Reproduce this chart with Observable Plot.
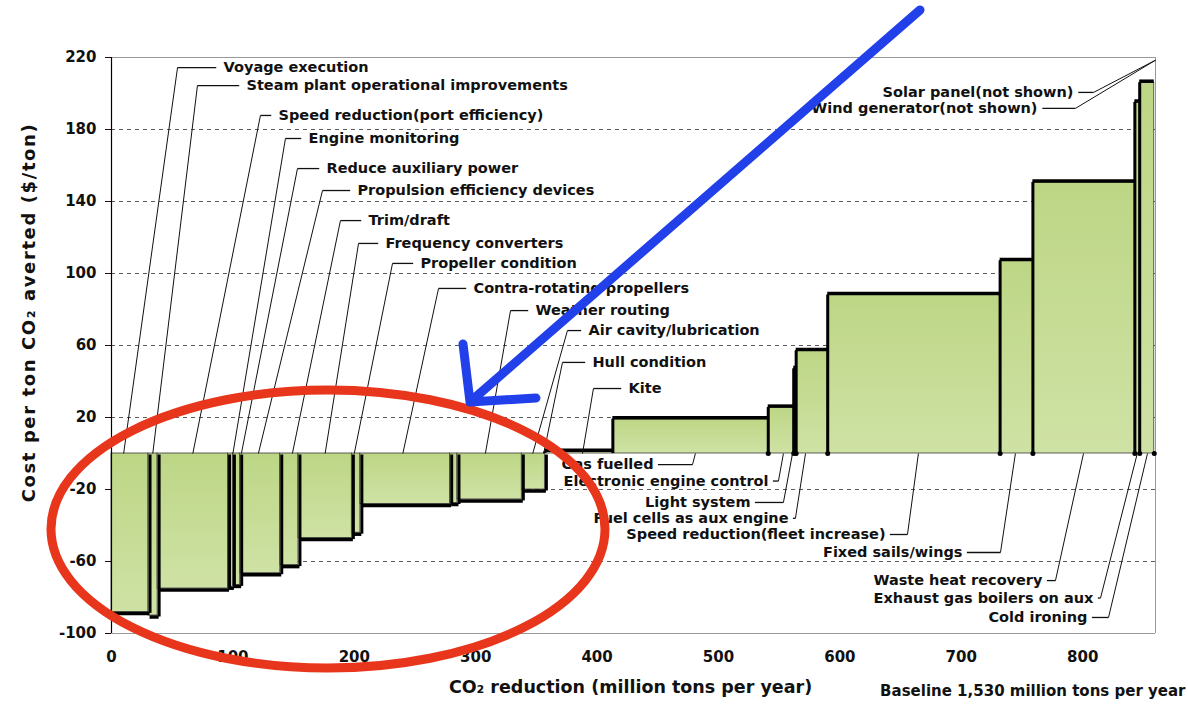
<!DOCTYPE html>
<html>
<head>
<meta charset="utf-8">
<script src="https://cdn.jsdelivr.net/npm/d3@7"></script>
<script src="https://cdn.jsdelivr.net/npm/@observablehq/plot@0.6"></script>
<style>
  html, body { margin: 0; padding: 0; background: #fff; }
  svg text { font-weight: bold; }
</style>
</head>
<body>
<div id="chart"></div>
<script>
// ---- data: measures in merit order ----
const measures = [
  "Voyage execution", "Steam plant operational improvements", "Speed reduction(port efficiency)",
  "Engine monitoring", "Reduce auxiliary power", "Propulsion efficiency devices", "Trim/draft",
  "Frequency converters", "Propeller condition", "Contra-rotating propellers", "Weather routing",
  "Air cavity/lubrication", "Hull condition", "Kite", "Gas fuelled", "Electronic engine control",
  "Light system", "Fuel cells as aux engine", "Speed reduction(fleet increase)", "Fixed sails/wings",
  "Waste heat recovery", "Exhaust gas boilers on aux", "Cold ironing"
];
// CO2 reduction of each measure (million tons per year)
const reductions = [30.5, 7.5, 58, 4, 6, 33, 15, 44, 7, 74, 6, 53, 19, 56, 128, 21, 2, 26, 142, 27, 84, 4, 12];
// cost per ton CO2 averted ($/ton)
const costs = [-88, -90, -75, -74, -73, -66.5, -62, -47, -44, -28, -27.5, -25.5, -20, 1, 19, 25.5, 47, 57, 88, 107, 150.5, 195, 206];

const notShown = ["Solar panel(not shown)", "Wind generator(not shown)"];

const yTicks = [-100, -60, -20, 20, 60, 100, 140, 180, 220];
const xTicks = [0, 100, 200, 300, 400, 500, 600, 700, 800];
const gridLines = [-60, -20, 20, 60, 100, 140, 180];

const yTitle = "Cost per ton CO₂ averted ($/ton)";
const xTitle = "CO₂ reduction (million tons per year)";
const baselineNote = "Baseline 1,530 million tons per year";

// ---- annotation layout (label anchor, elbow and pointer, in data units) ----
const labelX   = [92.3, 111.2, 137.6, 162.3, 177.1, 202.6, 211.7, 225.7, 254.5, 298.2, 349.3, 392.9, 396.2, 425.9,
                  446.5, 541.2, 526.4, 557.7, 637.6, 701.0, 766.9, 808.9, 804.0];
const labelY   = [214.4, 204.4, 187.8, 175.0, 158.3, 146.1, 129.4, 116.7, 105.6, 91.7, 79.4, 68.3, 50.6, 36.1,
                  -6.2, -15.3, -27.2, -36.0, -45.0, -55.0, -70.6, -80.3, -91.1];
const elbowX   = [54.4, 70.8, 122.7, 143.3, 153.2, 173.8, 188.6, 203.5, 231.5, 269.4, 328.7, 375.6, 371.5, 397.0,
                  478.6, 549.4, 553.5, 563.4, 655.7, 732.3, 777.6, 814.7, 821.3];
const pointerX = [10, 34, 67, 100, 107, 121, 149, 176, 200, 240, 308, 347, 356, 388,
                  481, 553.5, 561, 571.7, 664.7, 744.6, 800.7, 845, 853.4];
const notShownX = [792.4, 762.8];
const notShownY = [200.6, 191.7];
const notShownElbow = [809, 794];

// ---- build tables ----
let acc = 0;
const bars = measures.map((name, i) => {
  const start = acc; acc += reductions[i];
  return {name, start, end: acc, cost: costs[i]};
});
const neg = bars.filter(d => d.cost < 0);
const pos = bars.filter(d => d.cost >= 0);
const posAbove = bars.filter(d => d.cost > 5);

const labels = measures.map((name, i) => ({
  name, x: labelX[i], y: labelY[i], ex: elbowX[i], px: pointerX[i], top: labelY[i] > 0
}));
const topLabels = labels.filter(d => d.top);
const botLabels = labels.filter(d => !d.top);
const gap = 6;
const legs = labels.map(d => ({x1: d.px, y1: 0, x2: d.ex, y2: d.y}));
const arms = labels.map(d => d.top ? {x1: d.ex, y1: d.y, x2: d.x - gap, y2: d.y}
                                   : {x1: d.x + gap * 0.6, y1: d.y, x2: d.ex, y2: d.y});
const ns = notShown.map((name, i) => ({name, x: notShownX[i], y: notShownY[i], ex: notShownElbow[i]}));

const defsMark = () => {
  const defs = d3.create("svg:defs");
  const g = defs.append("linearGradient").attr("id", "barfill").attr("x1", 0).attr("x2", 0).attr("y1", 0).attr("y2", 1);
  g.append("stop").attr("offset", "0%").attr("stop-color", "#bdd685");
  g.append("stop").attr("offset", "100%").attr("stop-color", "#cfe2a5");
  return defs.node();
};

const LF = 14.5; // annotation label font size

const chart = Plot.plot({
  width: 1188,
  height: 706,
  marginLeft: 111,
  marginRight: 33,
  marginTop: 57,
  marginBottom: 73,
  style: {fontFamily: "'DejaVu Sans', sans-serif", fontSize: "14px", color: "#111", background: "#fff"},
  x: {domain: [0, 860]},
  y: {domain: [-100, 220]},
  marks: [
    defsMark,
    Plot.gridY(gridLines, {stroke: "#333", strokeOpacity: 0.8, strokeDasharray: "4,4", strokeWidth: 1}),
    Plot.ruleY([220], {stroke: "#999", strokeWidth: 1}),
    Plot.ruleX([860], {stroke: "#999", strokeWidth: 1}),
    Plot.ruleY([-100], {stroke: "#999", strokeWidth: 1}),
    Plot.rectY(bars, {x1: "start", x2: "end", y1: 0, y2: "cost", fill: "url(#barfill)", stroke: "#3a3a3a", strokeWidth: 0.8}),
    // shadow edges
    Plot.ruleY(neg, {y: "cost", x1: "start", x2: "end", stroke: "#000", strokeWidth: 3.5, dy: 1.5, dx: 1.5}),
    Plot.ruleX(neg, {x: "end", y1: 0, y2: "cost", stroke: "#000", strokeWidth: 3, dx: 1.5, dy: 1.5}),
    Plot.ruleY(pos, {y: "cost", x1: "start", x2: "end", stroke: "#000", strokeWidth: 3.5, dy: -1.5}),
    Plot.ruleX(pos, {x: "start", y1: 0, y2: "cost", stroke: "#000", strokeWidth: 3}),
    Plot.dot(posAbove, {x: "end", y: 0, r: 2.5, fill: "#000", stroke: null}),
    Plot.ruleX([0], {stroke: "#000", strokeWidth: 1.2}),
    Plot.axisY({ticks: yTicks, tickSize: 6, tickPadding: 9, tickFormat: d => String(d), fontSize: 15, label: null}),
    Plot.axisX({ticks: xTicks, tickSize: 0, tickPadding: 18, tickFormat: d => String(d), fontSize: 15, label: null}),
    // axis titles
    Plot.text([yTitle], {frameAnchor: "left", textAnchor: "middle", dx: -82, dy: -33, rotate: -90, fontSize: 18, fill: "#111"}),
    Plot.text([xTitle], {frameAnchor: "bottom", dx: -3, dy: 59, fontSize: 17.5, fill: "#111"}),
    Plot.text([baselineNote], {frameAnchor: "bottom-right", dx: 30, dy: 62, fontSize: 15, fill: "#111"}),
    // leader lines
    Plot.link(legs, {x1: "x1", y1: "y1", x2: "x2", y2: "y2", stroke: "#111", strokeWidth: 1}),
    Plot.link(arms, {x1: "x1", y1: "y1", x2: "x2", y2: "y2", stroke: "#111", strokeWidth: 1.3}),
    Plot.text(topLabels, {x: "x", y: "y", text: "name", textAnchor: "start", fontSize: LF, fill: "#111"}),
    Plot.text(botLabels, {x: "x", y: "y", text: "name", textAnchor: "end", fontSize: LF, fill: "#111"}),
    // not shown measures
    Plot.link(ns, {x1: "ex", y1: "y", x2: 860, y2: 218.5, stroke: "#111", strokeWidth: 1}),
    Plot.link(ns, {x1: d => d.x + 4, y1: "y", x2: "ex", y2: "y", stroke: "#111", strokeWidth: 1.3}),
    Plot.text(ns, {x: "x", y: "y", text: "name", textAnchor: "end", fontSize: LF, fill: "#111"})
  ]
});

const svg = d3.select(chart);
// the reference's vertical title is drawn wider-spaced
svg.selectAll("text").filter(function () { return this.textContent === yTitle; }).style("letter-spacing", "1.6px");

// hand-drawn highlight overlay
svg.append("ellipse").attr("cx", 328).attr("cy", 529).attr("rx", 277).attr("ry", 139)
  .attr("fill", "none").attr("stroke", "#e8361d").attr("stroke-width", 9);
svg.append("path").attr("d", "M920,10 L470,402 M463,344 L470,402 L536,398")
  .attr("fill", "none").attr("stroke", "#2140ea").attr("stroke-width", 9)
  .attr("stroke-linecap", "round").attr("stroke-linejoin", "round");

document.getElementById("chart").appendChild(chart);
</script>
</body>
</html>
